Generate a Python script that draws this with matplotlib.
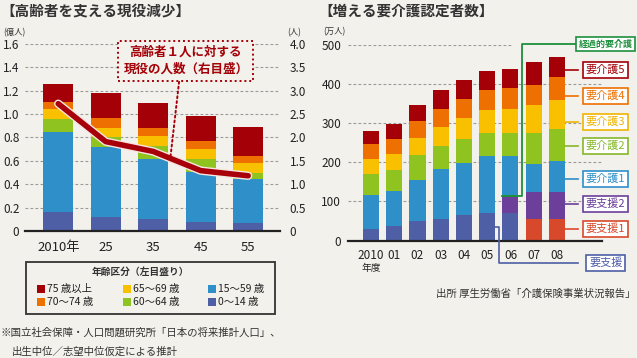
import matplotlib.pyplot as plt
import matplotlib.patheffects as pe
from matplotlib.patches import Rectangle
import numpy as np

plt.rcParams['font.family'] = ['Noto Sans CJK JP', 'DejaVu Sans']
NUM = ['Liberation Sans Narrow', 'Noto Sans CJK JP']

bg = '#f3f1ec'
c_red = '#a30008'
c_orange = '#ee7000'
c_yellow = '#f9c000'
c_green = '#8fc31f'
c_blue = '#2e8fc9'
c_slate = '#4e5fa6'
c_purple = '#6b3f9a'
c_redorange = '#d8492b'
c_dkgreen = '#1d8f3c'

# left chart: population by age group (100 million)
years_l = ['2010年', '25', '35', '45', '55']
age_names = ['0～14 歳', '15～59 歳', '60～64 歳', '65～69 歳', '70～74 歳', '75 歳以上']
age_colors = [c_slate, c_blue, c_green, c_yellow, c_orange, c_red]
age_vals = [
    [0.165, 0.122, 0.100, 0.080, 0.071],
    [0.685, 0.599, 0.516, 0.427, 0.374],
    [0.105, 0.083, 0.114, 0.106, 0.049],
    [0.089, 0.080, 0.083, 0.088, 0.085],
    [0.062, 0.080, 0.071, 0.069, 0.065],
    [0.151, 0.214, 0.214, 0.216, 0.243],
]
workers_per_elder = [2.72, 1.91, 1.70, 1.29, 1.18]

# right chart: certified care recipients (10 thousand)
years_r = ['2010', '01', '02', '03', '04', '05', '06', '07', '08']
care_names = ['要支援', '要支援1', '要支援2', '経過的要介護', '要介護1', '要介護2', '要介護3', '要介護4', '要介護5']
care_colors = [c_slate, c_redorange, c_purple, c_dkgreen, c_blue, c_green, c_yellow, c_orange, c_red]
care_vals = [
    [30.0, 37.5, 50.2, 56.1, 65.5, 69.8, 69.8, 0, 0],
    [0, 0, 0, 0, 0, 0, 0, 56.1, 55.3],
    [0, 0, 0, 0, 0, 0, 40.8, 68.8, 69.6],
    [0, 0, 0, 0, 0, 0, 5.0, 0, 0],
    [86.5, 89.2, 104.5, 126.6, 133.3, 146.0, 100.2, 70.6, 77.4],
    [52.7, 53.3, 63.7, 58.6, 59.6, 59.4, 59.4, 78.2, 81.6],
    [38.2, 40.2, 44.1, 49.2, 55.1, 57.8, 61.2, 71.3, 74.7],
    [38.3, 38.2, 42.5, 45.9, 48.4, 51.0, 53.5, 52.6, 57.8],
    [34.3, 38.2, 41.6, 48.4, 47.6, 48.5, 48.4, 57.0, 51.0],
]
label_colors = {'要支援': c_slate, '要支援1': c_redorange, '要支援2': c_purple,
                '経過的要介護': c_dkgreen, '要介護1': c_blue, '要介護2': '#86b82a',
                '要介護3': '#f0b400', '要介護4': c_orange, '要介護5': c_red}

fig = plt.figure(figsize=(6.37, 3.58), dpi=100, facecolor=bg)
W, H = 637, 358

def figbox(x0, y0, x1, y1):
    return [x0 / W, 1 - y1 / H, (x1 - x0) / W, (y1 - y0) / H]

# ---------- left ----------
ax = fig.add_axes(figbox(25, 43.8, 280, 231))
ax.set_facecolor('none')
x = np.arange(len(years_l))
bottom = np.zeros(len(years_l))
for vals, col in zip(age_vals, age_colors):
    ax.bar(x, vals, 0.63, bottom=bottom, color=col, zorder=3)
    bottom += np.array(vals)
ax.set_xlim(-0.7, 4.67)
ax.set_ylim(0, 1.6)
ax.set_yticks(np.arange(0, 1.61, 0.2))
ax.set_yticklabels(['0'] + ['%.1f' % v for v in np.arange(0.2, 1.61, 0.2)], family=NUM, fontsize=8.5, color='#222')
ax.set_xticks(x)
ax.set_xticklabels(years_l, family=NUM, fontsize=9.5, color='#222')
ax.tick_params(length=0, pad=4)
ax.tick_params(axis='x', pad=7)
for v in np.arange(0.2, 1.61, 0.2):
    ax.axhline(v, color='#999', lw=0.8, ls=(0, (2.5, 2)), zorder=1)
for s in ['top', 'left', 'right']:
    ax.spines[s].set_visible(False)
ax.spines['bottom'].set_color('#222')
ax.spines['bottom'].set_linewidth(1.6)
ax.spines['bottom'].set_zorder(5)

ax2 = ax.twinx()
ax2.set_ylim(0, 4)
ax2.set_yticks(np.arange(0, 4.01, 0.5))
ax2.set_yticklabels(['0'] + ['%.1f' % v for v in np.arange(0.5, 4.01, 0.5)], family=NUM, fontsize=8.5, color='#222')
ax2.tick_params(length=0, pad=7)
for s in ['top', 'left', 'right', 'bottom']:
    ax2.spines[s].set_visible(False)
ax2.plot(x, workers_per_elder, color='#a8000a', lw=4, solid_capstyle='round', zorder=6,
         path_effects=[pe.Stroke(linewidth=6, foreground='#f6e6e0'), pe.Normal()])
xa = 2.36
ya = np.interp(xa, x, workers_per_elder)
ax2.annotate('高齢者１人に対する\n現役の人数（右目盛）', xy=(xa, ya), xytext=(2.69, 3.63),
             ha='center', va='center', fontsize=9, fontweight='bold', color=c_red, linespacing=1.4,
             bbox=dict(boxstyle='square,pad=0.4', fc=bg, ec=c_red, ls=(0, (1, 1.5)), lw=1.4),
             arrowprops=dict(arrowstyle='-', color=c_red, ls=(0, (1, 1.5)), lw=1.4, relpos=(0.45, 0),
                             shrinkA=0, shrinkB=0), zorder=7)

fig.text(3 / W, 1 - 33 / H, '(億人)', fontsize=6, color='#333', va='center')
fig.text(287 / W, 1 - 33 / H, '(人)', fontsize=6, color='#333', va='center')
fig.text(0, 1 - 11 / H, '【高齢者を支える現役減少】', fontsize=10.5, fontweight='bold', color='#333', va='center')

# legend box
fig.add_artist(Rectangle((26 / W, 1 - 314 / H), 249 / W, 52 / H, transform=fig.transFigure,
                         fill=False, ec='#333', lw=1.3))
fig.text(140 / W, 1 - 272 / H, '年齢区分（左目盛り）', fontsize=7, fontweight='bold', color='#333',
         ha='center', va='center')
leg_order = [5, 4, 3, 2, 1, 0]
col_x = [37, 123, 208]
row_y = [289, 302]
for k, i in enumerate(leg_order):
    cx = col_x[k // 2]
    cy = row_y[k % 2]
    fig.add_artist(Rectangle((cx / W, 1 - (cy + 4) / H), 8 / W, 8 / H, transform=fig.transFigure,
                             color=age_colors[i], lw=0))
    fig.text((cx + 10) / W, 1 - cy / H, age_names[i], fontsize=7.5, color='#222', va='center')

fig.text(0, 1 - 333 / H, '※国立社会保障・人口問題研究所「日本の将来推計人口」、', fontsize=7.5, color='#333', va='center')
fig.text(12 / W, 1 - 352 / H, '出生中位／志望中位仮定による推計', fontsize=7.5, color='#333', va='center')

# ---------- right ----------
bx = fig.add_axes(figbox(348, 44.5, 602, 240.7))
bx.set_facecolor('none')
xr = np.arange(len(years_r))
bw = 0.69
bottom = np.zeros(len(years_r))
tops = {}
for name, vals, col in zip(care_names, care_vals, care_colors):
    bx.bar(xr, vals, bw, bottom=bottom, color=col, zorder=3)
    tops[name] = (bottom.copy(), bottom + np.array(vals))
    bottom += np.array(vals)
bx.set_xlim(-0.99, 9.94)
bx.set_ylim(0, 500)
bx.set_yticks(range(0, 501, 100))
bx.set_yticklabels([str(v) for v in range(0, 501, 100)], family=NUM, fontsize=8.5, color='#222')
bx.set_xticks(xr)
bx.set_xticklabels(years_r, family=NUM, fontsize=8.5, color='#222')
bx.tick_params(length=0, pad=5)
bx.tick_params(axis='x', pad=6)
bx.text(0, -70, '年度', fontsize=7, color='#222', ha='center', va='center')
for v in range(100, 501, 100):
    bx.hlines(v, -0.99, 6.1 if v == 500 else 9.94, color='#999', lw=0.8, ls=(0, (2.5, 2)), zorder=1)
for s in ['top', 'left', 'right']:
    bx.spines[s].set_visible(False)
bx.spines['bottom'].set_color('#222')
bx.spines['bottom'].set_linewidth(1.6)
bx.spines['bottom'].set_zorder(5)

fig.text(323 / W, 1 - 32 / H, '(万人)', fontsize=6, color='#333', va='center')
fig.text(318 / W, 1 - 11 / H, '【増える要介護認定者数】', fontsize=10.5, fontweight='bold', color='#333', va='center')
fig.text(636 / W, 1 - 294 / H, '出所 厚生労働省「介護保険事業状況報告」', fontsize=7.5, color='#333',
         ha='right', va='center')

# label boxes on the right
box_x = 10.1
box_left = 8.9
box_y = {'経過的要介護': 501, '要介護5': 435, '要介護4': 369, '要介護3': 303, '要介護2': 241,
         '要介護1': 157, '要支援2': 94, '要支援1': 30, '要支援': -57}
for name, yv in box_y.items():
    col = label_colors[name]
    bx.text(box_x, yv, name, ha='center', va='center', fontsize=6.5 if name == '経過的要介護' else 8,
            color=col, fontweight='bold' if name == '経過的要介護' else 'normal', zorder=8, clip_on=False,
            bbox=dict(boxstyle='square,pad=0.25', fc='white', ec=col, lw=1.2))
    if name not in ('経過的要介護', '要支援'):
        bx.plot([8 + bw / 2, box_left], [yv, yv], color=col, lw=1.2, clip_on=False, zorder=7)

# leader for the transitional category (bar 06)
lo, hi = tops['経過的要介護']
ym = (lo[6] + hi[6]) / 2
bx.plot([box_left, 6.5, 6.5, 6 - bw / 2], [501, 501, ym, ym], color=c_dkgreen, lw=1.3,
        clip_on=False, zorder=7)
# leader for 要支援 (bar 05)
lo, hi = tops['要支援']
ym = (lo[5] + hi[5]) / 2
bx.plot([5 + bw / 2, 5.5, 5.5, box_left], [ym, ym, -57, -57], color=c_slate, lw=1.2,
        clip_on=False, zorder=7)

fig.savefig('out.png', dpi=100, facecolor=bg)
